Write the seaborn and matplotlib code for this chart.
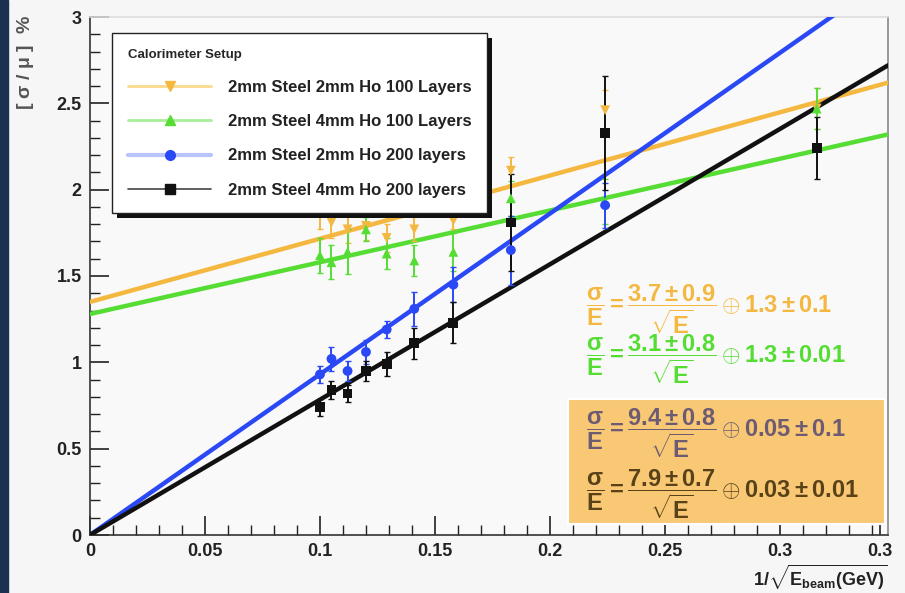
import matplotlib
matplotlib.use("Agg")
import matplotlib.pyplot as plt
import numpy as np
import pandas as pd
import seaborn as sns
from matplotlib.lines import Line2D
from matplotlib.patches import Rectangle
from matplotlib.ticker import MultipleLocator

# ---------------- data ----------------
inv_sqrt_e = [0.100, 0.105, 0.112, 0.120, 0.129, 0.141, 0.158, 0.183, 0.224, 0.316]

orange_y = [1.86, 1.81, 1.77, 1.79, 1.72, 1.77, 1.82, 2.11, 2.46, 2.47]
orange_err = [0.09, 0.09, 0.08, 0.08, 0.08, 0.07, 0.05, 0.08, 0.12, 0.12]

green_y = [1.62, 1.58, 1.64, 1.77, 1.63, 1.59, 1.64, 1.95, 1.93, 2.47]
green_err = [0.10, 0.10, 0.13, 0.07, 0.09, 0.09, 0.11, 0.10, 0.13, 0.12]

blue_x = [0.100, 0.105, 0.112, 0.120, 0.129, 0.141, 0.158, 0.183, 0.224]
blue_y = [0.93, 1.02, 0.95, 1.06, 1.19, 1.31, 1.45, 1.65, 1.91]
blue_err = [0.05, 0.07, 0.06, 0.07, 0.05, 0.10, 0.10, 0.20, 0.13]

black_y = [0.74, 0.84, 0.82, 0.95, 0.99, 1.11, 1.23, 1.81, 2.33, 2.24]
black_err = [0.05, 0.05, 0.05, 0.06, 0.07, 0.09, 0.12, 0.28, 0.33, 0.18]

fit_x = [0.0, 0.347]
orange_fit = [1.35, 2.62]
green_fit = [1.28, 2.32]
blue_fit = [0.0, 3.23]
black_fit = [0.0, 2.72]

series_names = ["2mm Steel 2mm Ho 100 Layers",
                "2mm Steel 4mm Ho 100 Layers",
                "2mm Steel 2mm Ho 200 layers",
                "2mm Steel 4mm Ho 200 layers"]
legend_title = "Calorimeter Setup"

formulas = [r"$\dfrac{\sigma}{E} = \dfrac{3.7 \pm 0.9}{\sqrt{E}} \oplus 1.3 \pm 0.1$",
            r"$\dfrac{\sigma}{E} = \dfrac{3.1 \pm 0.8}{\sqrt{E}} \oplus 1.3 \pm 0.01$",
            r"$\dfrac{\sigma}{E} = \dfrac{9.4 \pm 0.8}{\sqrt{E}} \oplus 0.05 \pm 0.1$",
            r"$\dfrac{\sigma}{E} = \dfrac{7.9 \pm 0.7}{\sqrt{E}} \oplus 0.03 \pm 0.01$"]

xtick_pos = [0, 0.05, 0.10, 0.15, 0.20, 0.25, 0.30, 0.3435]
xtick_labels = ["0", "0.05", "0.1", "0.15", "0.2", "0.25", "0.3", "0.3"]
ytick_pos = [0, 0.5, 1, 1.5, 2, 2.5, 3]
ytick_labels = ["0", "0.5", "1", "1.5", "2", "2.5", "3"]

xlabel = r"$1/\sqrt{E_{beam}(GeV)}$"
ylabel = r"[ $\sigma$ / $\mu$ ]  %"

# ---------------- style ----------------
sns.set_theme(style="ticks")
plt.rcParams["font.family"] = ["Liberation Sans", "DejaVu Sans"]
plt.rcParams["font.weight"] = "bold"
plt.rcParams["mathtext.fontset"] = "custom"
plt.rcParams["mathtext.rm"] = "Liberation Sans:bold"
plt.rcParams["mathtext.it"] = "Liberation Sans:bold"
plt.rcParams["mathtext.bf"] = "Liberation Sans:bold"
plt.rcParams["mathtext.sf"] = "Liberation Sans:bold"
plt.rcParams["mathtext.default"] = "bf"

C_OR = "#f4b840"
C_GR = "#55dd33"
C_BL = "#2a48f5"
C_BK = "#111111"

fig = plt.figure(figsize=(9.05, 5.93), dpi=100, facecolor="#f6f6f6")
ax = fig.add_axes([90 / 905, 1 - 535 / 593, 798 / 905, 518 / 593])
ax.set_facecolor("#f9f9f9")

# dark strip on the left edge
fig.add_artist(Rectangle((0, 0), 8 / 905, 1, transform=fig.transFigure,
                         color="#1c3150", zorder=0))

# fit lines
for fy, col in [(orange_fit, C_OR), (green_fit, C_GR), (blue_fit, C_BL), (black_fit, C_BK)]:
    sns.lineplot(x=fit_x, y=fy, ax=ax, color=col, lw=3.2, zorder=3, legend=False)

# error bars + markers
point_sets = [
    (inv_sqrt_e, orange_y, orange_err, C_OR, "v"),
    (inv_sqrt_e, green_y, green_err, C_GR, "^"),
    (blue_x, blue_y, blue_err, C_BL, "o"),
    (inv_sqrt_e, black_y, black_err, C_BK, "s"),
]
for xs, ys, es, col, mk in point_sets:
    ax.errorbar(xs, ys, yerr=es, fmt="none", ecolor=col, elinewidth=1.4,
                capsize=2, zorder=4)
    sns.scatterplot(x=xs, y=ys, ax=ax, color=col, marker=mk, s=50,
                    edgecolor="none", zorder=5, legend=False)

# orange box with the 200-layer fits
ax.add_patch(Rectangle((0.2078, 0.064), 0.1379, 0.721, facecolor="#f9c875",
                       edgecolor="white", lw=1.5, zorder=2))

fcols = [C_OR, C_GR, "#6c5b72", "#5a4218"]
fys = [1.31, 1.02, 0.59, 0.235]
for txt, col, yy in zip(formulas, fcols, fys):
    ax.text(0.2155, yy, txt, color=col, fontsize=17, va="center", ha="left", zorder=6)

# axes
ax.set_xlim(0, 0.347)
ax.set_ylim(0, 3)
ax.set_xticks(xtick_pos)
ax.set_xticklabels(xtick_labels)
ax.set_yticks(ytick_pos)
ax.set_yticklabels(ytick_labels)
ax.xaxis.set_minor_locator(MultipleLocator(0.01))
ax.yaxis.set_minor_locator(MultipleLocator(0.1))
ax.tick_params(axis="both", which="major", direction="in", length=14, width=1.2,
               labelsize=13, colors="#222222", pad=6)
ax.tick_params(axis="both", which="minor", direction="in", length=7, width=1.0,
               colors="#222222")
for lab in ax.get_xticklabels() + ax.get_yticklabels():
    lab.set_fontweight("bold")
for sp in ax.spines.values():
    sp.set_visible(True)
    sp.set_color("#333333")
    sp.set_linewidth(1.2)
ax.spines["top"].set_color("#dddddd")
ax.spines["right"].set_color("#888888")

ax.set_xlabel(xlabel, loc="right", fontsize=13, labelpad=2, color="#222222")
fig.text(0.028, 0.975, ylabel, rotation=90, ha="center", va="top",
         fontsize=14, color="#555555", fontweight="bold")

# legend shadow (drawn manually, ROOT style)
ax.add_patch(Rectangle((0.0352, 0.620), 0.4763, 0.337, transform=ax.transAxes,
                       facecolor="#111111", edgecolor="none", zorder=9))

# legend
handles = [
    Line2D([], [], color="#fbd98c", lw=2, marker="v", markerfacecolor=C_OR,
           markeredgecolor=C_OR, markersize=7),
    Line2D([], [], color="#a8ee98", lw=2, marker="^", markerfacecolor=C_GR,
           markeredgecolor=C_GR, markersize=7),
    Line2D([], [], color="#b8c4fb", lw=3, marker="o", markerfacecolor=C_BL,
           markeredgecolor=C_BL, markersize=7),
    Line2D([], [], color="#444444", lw=1.2, marker="s", markerfacecolor=C_BK,
           markeredgecolor=C_BK, markersize=7),
]
leg = ax.legend(handles, series_names, title=legend_title, loc="upper left",
                bbox_to_anchor=(0.0276, 0.969), borderaxespad=0, frameon=True,
                fancybox=False, framealpha=1,
                edgecolor="#222222", facecolor="white", fontsize=12,
                title_fontsize=9.5, handlelength=5.0, handletextpad=1.0,
                labelspacing=1.15, borderpad=0.95, alignment="left")
leg.get_frame().set_linewidth(1.0)
leg.set_zorder(10)
for t in leg.get_texts():
    t.set_fontweight("bold")
    t.set_color("#222222")
leg.get_title().set_fontweight("bold")

fig.canvas.draw()
# adjust manual shadow to the real legend box
bb = leg.get_window_extent().transformed(ax.transAxes.inverted())
sh = ax.patches[-1]
dx, dy = 5 / 798, 5 / 518
sh.set_xy((bb.x0 + dx, bb.y0 - dy))
sh.set_width(bb.width)
sh.set_height(bb.height)

fig.savefig("out.png", dpi=100, facecolor=fig.get_facecolor())
